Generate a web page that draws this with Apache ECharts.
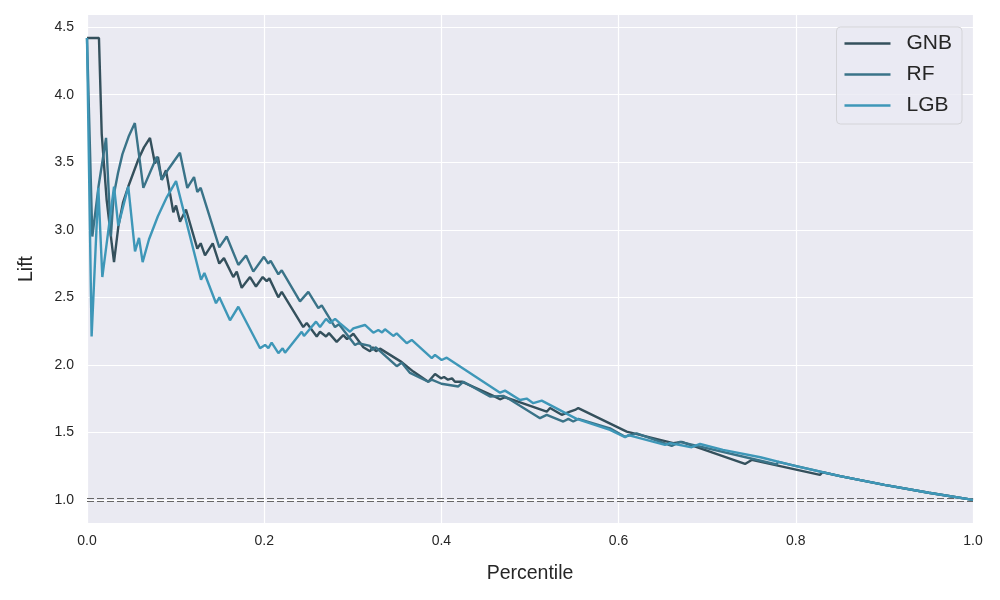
<!DOCTYPE html>
<html>
<head>
<meta charset="utf-8">
<script src="https://cdn.jsdelivr.net/npm/echarts@6/dist/echarts.min.js"></script>
<style>
html,body{margin:0;padding:0;background:#fff;}
#chart{width:1000px;height:600px;}
</style>
</head>
<body>
<div id="chart"></div>
<script>
var seriesNames = ['GNB', 'RF', 'LGB'];
var yTicks = [1.0, 1.5, 2.0, 2.5, 3.0, 3.5, 4.0, 4.5];
var baselineValues = [1.0085, 0.9915];

var gnbData = [
[0.000,4.42],[0.0135,4.42],[0.0166,3.71],[0.0222,3.22],[0.0279,2.90],[0.0305,2.76],
[0.0353,3.02],[0.0406,3.20],[0.0466,3.32],[0.0579,3.52],[0.0643,3.61],[0.0711,3.68],
[0.0767,3.49],[0.0801,3.54],[0.0843,3.37],[0.0892,3.44],[0.0974,3.13],[0.1005,3.18],
[0.1050,3.06],[0.1117,3.15],[0.1245,2.86],[0.1283,2.90],[0.1332,2.81],[0.1419,2.90],
[0.1493,2.75],[0.1546,2.79],[0.1651,2.65],[0.1690,2.69],[0.1746,2.57],[0.1840,2.65],
[0.1907,2.58],[0.1983,2.65],[0.2028,2.62],[0.2058,2.64],[0.2159,2.50],[0.2198,2.54],
[0.2441,2.28],[0.2480,2.31],[0.2593,2.21],[0.2630,2.245],[0.2698,2.21],[0.2731,2.235],
[0.2818,2.17],[0.2893,2.22],[0.2935,2.19],[0.3006,2.23],[0.3119,2.13],[0.3194,2.10],
[0.3225,2.13],[0.3262,2.10],[0.3307,2.12],[0.3552,2.02],[0.3683,1.95],[0.3852,1.875],
[0.3928,1.932],[0.3995,1.90],[0.4030,1.91],[0.4074,1.89],[0.4120,1.90],[0.4153,1.875],
[0.4229,1.875],[0.4605,1.765],[0.4661,1.745],[0.4718,1.76],[0.4808,1.74],[0.5189,1.653],
[0.5226,1.68],[0.5358,1.63],[0.5451,1.653],[0.5508,1.666],[0.5545,1.68],[0.6091,1.505],
[0.6617,1.42],[0.6712,1.43],[0.7427,1.266],[0.7502,1.296],[0.8273,1.185],[0.8300,1.205],
[0.8500,1.176],[0.9000,1.111],[0.9500,1.053],[1.0000,1.000]
];

var rfData = [
[0.000,4.42],[0.006,2.95],[0.013,3.32],[0.0215,3.68],[0.027,2.95],[0.030,3.25],
[0.035,3.42],[0.040,3.56],[0.047,3.69],[0.054,3.79],[0.0636,3.31],[0.0788,3.54],
[0.0843,3.37],[0.092,3.45],[0.1049,3.57],[0.1132,3.31],[0.1208,3.39],[0.1245,3.28],
[0.1283,3.31],[0.1493,2.87],[0.1577,2.95],[0.1708,2.74],[0.1795,2.81],[0.1877,2.69],
[0.1997,2.80],[0.2046,2.75],[0.2073,2.77],[0.2160,2.67],[0.2198,2.70],[0.2404,2.47],
[0.2498,2.54],[0.2611,2.42],[0.2649,2.44],[0.2799,2.28],[0.2844,2.30],[0.3025,2.147],
[0.3060,2.16],[0.3194,2.14],[0.3220,2.11],[0.3260,2.13],[0.3496,1.99],[0.3552,2.016],
[0.3646,1.94],[0.3852,1.875],[0.3890,1.89],[0.4000,1.86],[0.4191,1.84],[0.4248,1.875],
[0.4548,1.765],[0.4699,1.77],[0.4755,1.75],[0.5113,1.605],[0.5189,1.63],[0.5376,1.58],
[0.5433,1.60],[0.5488,1.58],[0.5545,1.60],[0.5903,1.53],[0.6073,1.468],[0.6204,1.493],
[0.6599,1.40],[0.6693,1.43],[0.7784,1.262],[0.7800,1.282],[0.8500,1.176],[0.9000,1.111],
[0.9500,1.053],[1.0000,1.000]
];

var lgbData = [
[0.000,4.42],[0.0052,2.21],[0.0128,3.31],[0.0173,2.65],[0.0305,3.32],[0.0353,3.03],
[0.0466,3.32],[0.0542,2.84],[0.0587,2.94],[0.0628,2.76],[0.070,2.93],[0.080,3.10],
[0.090,3.24],[0.1005,3.36],[0.1287,2.63],[0.1325,2.68],[0.1456,2.456],[0.1494,2.50],
[0.1614,2.33],[0.1708,2.43],[0.1953,2.123],[0.2010,2.147],[0.2047,2.123],[0.2084,2.164],
[0.2160,2.086],[0.2208,2.123],[0.2235,2.09],[0.2423,2.245],[0.2449,2.214],[0.2585,2.32],
[0.2630,2.28],[0.2698,2.34],[0.2743,2.31],[0.2800,2.34],[0.2856,2.307],[0.2968,2.245],
[0.3006,2.27],[0.3137,2.295],[0.3232,2.238],[0.3288,2.258],[0.3330,2.24],[0.3363,2.263],
[0.3457,2.214],[0.3495,2.233],[0.3608,2.16],[0.3665,2.184],[0.3891,2.049],[0.3928,2.073],
[0.4003,2.036],[0.4060,2.053],[0.4662,1.794],[0.4718,1.809],[0.4887,1.74],[0.4962,1.75],
[0.5037,1.716],[0.5132,1.735],[0.5526,1.60],[0.5903,1.518],[0.6073,1.464],[0.6111,1.48],
[0.6524,1.407],[0.6580,1.42],[0.6825,1.39],[0.6919,1.414],[0.7178,1.37],[0.7600,1.316],
[0.8000,1.250],[0.8500,1.176],[0.9000,1.111],[0.9500,1.053],[1.0000,1.000]
];

var colors = ['#34505c', '#3a7388', '#3e97b8'];
var allData = [gnbData, rfData, lgbData];

var chart = echarts.init(document.getElementById('chart'), null, {renderer: 'canvas'});
var font = 'Liberation Sans, Arial, sans-serif';

var series = seriesNames.map(function (name, i) {
  var s = {
    name: name,
    type: 'line',
    data: allData[i],
    showSymbol: false,
    symbol: 'none',
    lineStyle: {width: 2.4, color: colors[i]},
    itemStyle: {color: colors[i]},
    z: 3 + i,
    animation: false
  };
  if (i === 0) {
    s.markLine = {
      silent: true,
      symbol: ['none', 'none'],
      label: {show: false},
      lineStyle: {color: '#666666', type: [7, 3], width: 1.2},
      data: baselineValues.map(function (v) { return {yAxis: v}; }),
      animation: false
    };
  }
  return s;
});

chart.setOption({
  animation: false,
  backgroundColor: '#ffffff',
  color: colors,
  grid: {
    left: 87, right: 27, top: 15, bottom: 77,
    show: true, backgroundColor: '#EAEAF2', borderWidth: 0
  },
  legend: {
    data: seriesNames,
    orient: 'vertical',
    right: 38, top: 27,
    backgroundColor: 'rgba(234,234,242,0.8)',
    borderColor: '#d4d4d8', borderWidth: 1, borderRadius: 4,
    padding: [6, 10, 8, 8],
    icon: 'rect',
    itemWidth: 46, itemHeight: 2.5,
    itemGap: 10,
    textStyle: {fontFamily: font, fontSize: 21, color: '#262626', padding: [0, 0, 0, 11], lineHeight: 21}
  },
  xAxis: {
    type: 'value', min: 0, max: 1, interval: 0.2,
    name: 'Percentile', nameLocation: 'middle', nameGap: 41,
    nameTextStyle: {fontFamily: font, fontSize: 19.5, color: '#262626'},
    axisLine: {show: false}, axisTick: {show: false},
    axisLabel: {fontFamily: font, fontSize: 14, color: '#262626', margin: 11,
      formatter: function (v) { return v.toFixed(1); }},
    splitLine: {show: true, lineStyle: {color: '#ffffff', width: 1.2}}
  },
  yAxis: {
    type: 'value', min: 0.829, max: 4.59,
    name: 'Lift', nameLocation: 'middle', nameGap: 50,
    nameTextStyle: {fontFamily: font, fontSize: 19.5, color: '#262626'},
    axisLine: {show: false},
    axisTick: {show: false, customValues: yTicks},
    axisLabel: {fontFamily: font, fontSize: 14, color: '#262626', margin: 13,
      customValues: yTicks,
      formatter: function (v) { return v.toFixed(1); }},
    splitLine: {show: true, lineStyle: {color: '#ffffff', width: 1.2}}
  },
  series: series
});
</script>
</body>
</html>
